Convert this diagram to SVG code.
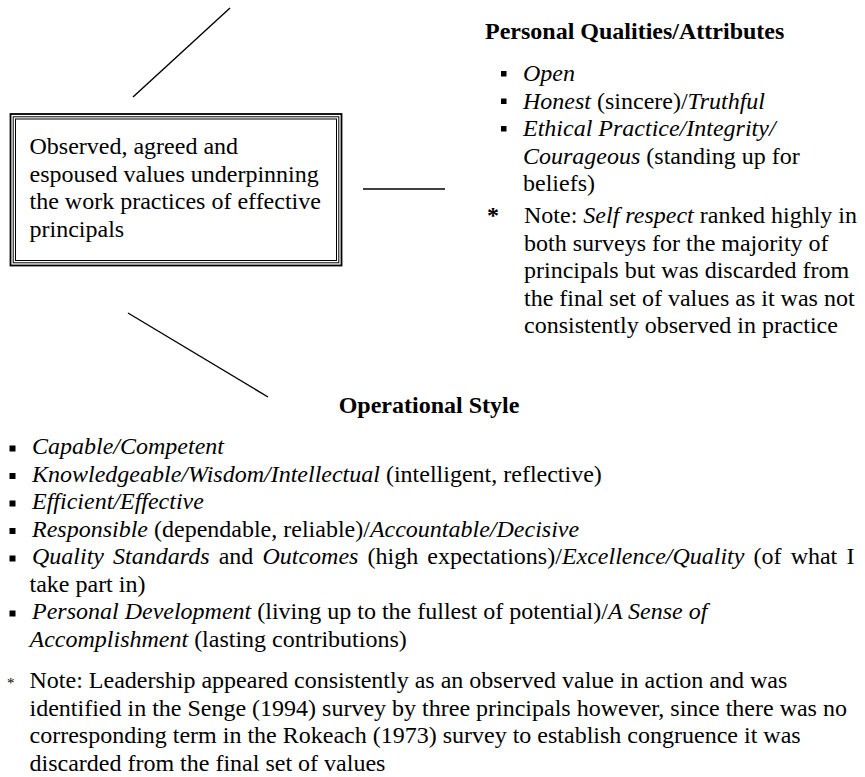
<svg xmlns="http://www.w3.org/2000/svg" width="865" height="777" viewBox="0 0 865 777">
<style>
text{font-family:"Liberation Serif","Times New Roman",serif;font-size:24px;fill:#000}
.b{font-weight:bold}
.i{font-style:italic}
.sq{fill:#000}
.conn line{stroke:#000;stroke-width:1.4}
</style>
<rect width="865" height="777" fill="#fff"/>
<g class="conn" id="connectors">
<line x1="230" y1="8" x2="133" y2="97"/>
<line x1="363" y1="189" x2="445" y2="189"/>
<line x1="128" y1="313" x2="268" y2="397"/>
</g>
<g id="center-node">
<rect x="10.5" y="114" width="331" height="151.5" fill="#fff" stroke="#000" stroke-width="1.8"/>
<rect x="13.2" y="116.8" width="325.6" height="146" fill="none" stroke="#000" stroke-width="1"/>
<rect x="15.5" y="119" width="321" height="141.5" fill="none" stroke="#000" stroke-width="1"/>
<text x="29.5" y="154">Observed, agreed and</text>
<text x="29.5" y="181.5">espoused values underpinning</text>
<text x="29.5" y="209">the work practices of effective</text>
<text x="29.5" y="236.5">principals</text>
</g>
<g id="personal-qualities">
<text x="485" y="39" class="b">Personal Qualities/Attributes</text>
<rect class="sq" x="501" y="71" width="5.5" height="5.5"/>
<rect class="sq" x="501" y="98.5" width="5.5" height="5.5"/>
<rect class="sq" x="501" y="126" width="5.5" height="5.5"/>
<text x="523" y="81" class="i">Open</text>
<text x="523" y="108.5"><tspan class="i">Honest</tspan> (sincere)/<tspan class="i">Truthful</tspan></text>
<text x="523" y="136" class="i">Ethical Practice/Integrity/</text>
<text x="523" y="163.5"><tspan class="i">Courageous</tspan> (standing up for</text>
<text x="523" y="191">beliefs)</text>
<text x="487" y="223" class="b">*</text>
<text x="524" y="223">Note: <tspan class="i">Self respect</tspan> ranked highly in</text>
<text x="524" y="250.5">both surveys for the majority of</text>
<text x="524" y="278">principals but was discarded from</text>
<text x="524" y="305.5">the final set of values as it was not</text>
<text x="524" y="333">consistently observed in practice</text>
</g>
<g id="operational-style">
<text x="429" y="413" class="b" text-anchor="middle">Operational Style</text>
<rect class="sq" x="9.5" y="445.5" width="6" height="6"/>
<rect class="sq" x="9.5" y="473" width="6" height="6"/>
<rect class="sq" x="9.5" y="500.5" width="6" height="6"/>
<rect class="sq" x="9.5" y="528" width="6" height="6"/>
<rect class="sq" x="9.5" y="555.5" width="6" height="6"/>
<rect class="sq" x="9.5" y="610.5" width="6" height="6"/>
<text x="32" y="454" class="i">Capable/Competent</text>
<text x="32" y="481.5"><tspan class="i">Knowledgeable/Wisdom/Intellectual</tspan> (intelligent, reflective)</text>
<text x="32" y="509" class="i">Efficient/Effective</text>
<text x="32" y="536.5"><tspan class="i">Responsible</tspan> (dependable, reliable)/<tspan class="i">Accountable/Decisive</tspan></text>
<text x="32" y="564" word-spacing="3.1"><tspan class="i">Quality Standards</tspan> and <tspan class="i">Outcomes</tspan> (high expectations)/<tspan class="i">Excellence/Quality</tspan> (of what I</text>
<text x="29.5" y="591.5">take part in)</text>
<text x="32" y="619"><tspan class="i">Personal Development</tspan> (living up to the fullest of potential)/<tspan class="i">A Sense of</tspan></text>
<text x="29.5" y="646.5"><tspan class="i">Accomplishment</tspan> (lasting contributions)</text>
<text x="7" y="687.5" style="font-size:15px">*</text>
<text x="29.5" y="688">Note: Leadership appeared consistently as an observed value in action and was</text>
<text x="29.5" y="715.5">identified in the Senge (1994) survey by three principals however, since there was no</text>
<text x="29.5" y="743">corresponding term in the Rokeach (1973) survey to establish congruence it was</text>
<text x="29.5" y="770.5">discarded from the final set of values</text>
</g>
</svg>
